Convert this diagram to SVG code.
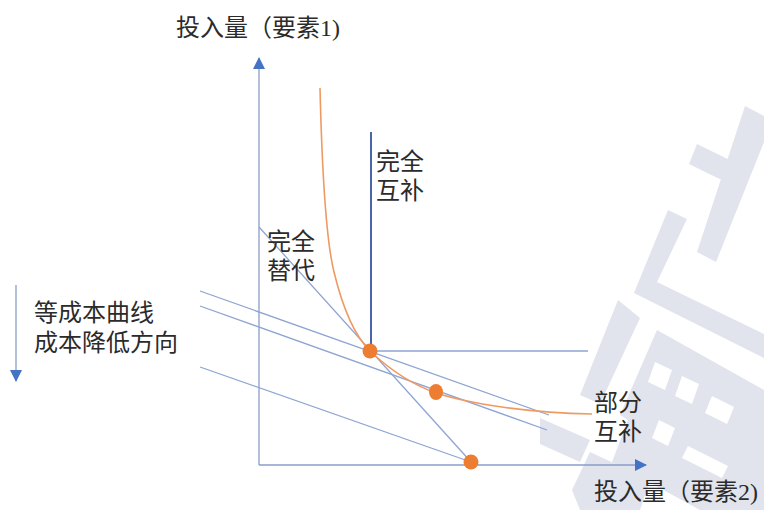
<svg xmlns="http://www.w3.org/2000/svg" width="764" height="510" viewBox="0 0 764 510">
<defs>
<style>
.lbl{font-family:"Liberation Sans","Noto Sans CJK SC",sans-serif;font-size:24px;fill:#2b2b2b}
.axl{font-family:"Liberation Serif","Noto Sans CJK SC",serif;font-size:24px;fill:#2b2b2b}
.ax{stroke:#8a9cc8;stroke-width:1.3;fill:none}
.iso{stroke:#8ea4d2;stroke-width:1.3;fill:none}
.dot{fill:#ed7d31}
.wm{fill:#e1e4ed}
</style>
<marker id="ah" markerUnits="userSpaceOnUse" markerWidth="12" markerHeight="12" viewBox="0 0 12 12" refX="11" refY="6" orient="auto">
<path d="M0,0 L12,6 L0,12 Z" fill="#4472c4"/>
</marker>
</defs>
<rect width="764" height="510" fill="#ffffff"/>
<g id="watermark">
<polygon class="wm" points="745,106 764,116 764,142 716,262 697,252"/>
<polygon class="wm" points="697,144 742,166 734,186 689,164"/>
<polygon class="wm" points="668,210 687,219 657,282 764,334 764,358 634,293"/>
<polygon class="wm" points="618,300 640,318 600,404 580,395"/>
<polygon class="wm" points="657,330 764,390 764,510 700,510 612,462 628,420 620,415"/>
<polygon class="wm" points="540,418 590,440 580,462 540,444"/>
<polygon class="wm" points="590,452 650,480 640,510 580,510 572,490"/>
<polygon points="655,362 672,370 665,390 648,382" fill="#fff"/>
<polygon points="682,376 699,384 692,404 675,396" fill="#fff"/>
<polygon points="659,420 675,428 668,446 652,438" fill="#fff"/>
<polygon points="712,396 734,407 727,424 705,413" fill="#fff"/>
<polygon points="688,446 728,466 722,478 682,458" fill="#fff"/>
</g>
<g id="connectors">
<line class="ax" x1="259" y1="465" x2="259" y2="58" marker-end="url(#ah)"/>
<line class="ax" x1="259" y1="465" x2="646" y2="465" marker-end="url(#ah)"/>
<line class="ax" x1="16" y1="285" x2="16" y2="381" marker-end="url(#ah)"/>
<line x1="371" y1="132" x2="371" y2="351" stroke="#4a64a8" stroke-width="2"/>
<line class="iso" x1="371" y1="351" x2="588" y2="351"/>
<line class="iso" x1="200" y1="291" x2="549" y2="415"/>
<line class="iso" x1="200" y1="306" x2="547" y2="430"/>
<line class="iso" x1="200" y1="367" x2="471" y2="462"/>
<line class="iso" x1="259" y1="227" x2="471" y2="462"/>
<path d="M320,88 C322,170 326,240 334,272 C342,305 354,335 370,351 C388,368 408,383 436,393 C470,404 530,413 592,414" fill="none" stroke="#ef9a62" stroke-width="1.6"/>
</g>
<g id="pt-corner"><circle class="dot" cx="370" cy="351" r="7.5"/></g>
<g id="pt-mid"><ellipse class="dot" cx="436" cy="392" rx="7" ry="8"/></g>
<g id="pt-low"><circle class="dot" cx="471" cy="462" r="7.5"/></g>
<g id="label-y"><text class="axl" x="176" y="36">投入量（要素1)</text></g>
<g id="label-x"><text class="axl" x="594" y="500">投入量（要素2)</text></g>
<g id="label-comp"><text class="lbl" x="376" y="170">完全<tspan x="376" y="199">互补</tspan></text></g>
<g id="label-sub"><text class="lbl" x="267" y="250">完全<tspan x="267" y="279">替代</tspan></text></g>
<g id="label-iso"><text class="lbl" x="34" y="321">等成本曲线<tspan x="34" y="351">成本降低方向</tspan></text></g>
<g id="label-part"><text class="lbl" x="594" y="411">部分<tspan x="594" y="440">互补</tspan></text></g>
</svg>
